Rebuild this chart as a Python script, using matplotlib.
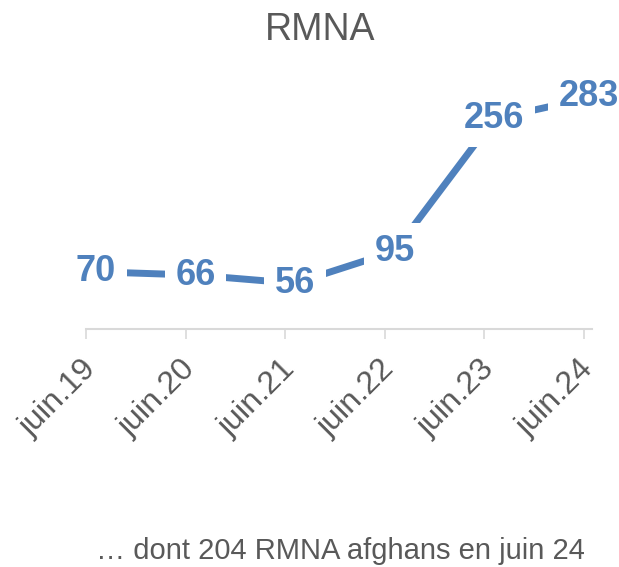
import matplotlib
matplotlib.use('agg')
import matplotlib.pyplot as plt
import matplotlib.transforms as mtransforms
import numpy as np

plt.rcParams['font.family'] = ['Liberation Sans', 'DejaVu Sans']

categories = ['juin.19', 'juin.20', 'juin.21', 'juin.22', 'juin.23', 'juin.24']
values = [70, 66, 56, 95, 256, 283]
title = 'RMNA'
note = '\u2026 dont 204 RMNA afghans en juin 24'

blue = '#4F81BD'
grey = '#595959'

fig = plt.figure(figsize=(6.19, 5.67), dpi=100)
ax = fig.add_axes([0.139, 0.4192, 0.8166, 0.4347])

x = np.arange(len(values)) + 0.1
ax.plot(x, values, color=blue, lw=5, solid_capstyle='butt', zorder=2)

for i, v in enumerate(values):
    xi = x[i] if i < len(values) - 1 else x[i] - 0.05
    ax.text(xi, v, str(v), ha='center', va='center', fontsize=26, fontweight='bold',
            color=blue, zorder=3,
            bbox=dict(boxstyle='square,pad=0.3', fc='white', ec='none'))

ax.set_xlim(0, 5.08)
ax.set_ylim(0, 300)
ax.set_xticks(np.arange(len(categories)))
ax.set_xticklabels(categories, rotation=45, ha='right', rotation_mode='anchor',
                   fontsize=23, color=grey)
ax.tick_params(axis='x', length=7, width=1.2, color='#D9D9D9', pad=11)
# nudge tick labels a little to the left
shift = mtransforms.ScaledTranslation(-5 / 100, 0, fig.dpi_scale_trans)
for lab in ax.get_xticklabels():
    lab.set_transform(lab.get_transform() + shift)
ax.set_yticks([])
for s in ['top', 'right', 'left']:
    ax.spines[s].set_visible(False)
ax.spines['bottom'].set_color('#D9D9D9')
ax.spines['bottom'].set_linewidth(1.5)

fig.text(0.517, 0.947, title, ha='center', va='center', fontsize=27, color=grey)
fig.text(0.155, 0.028, note, ha='left', va='center', fontsize=21, color=grey)

plt.savefig('out.png', dpi=100)
